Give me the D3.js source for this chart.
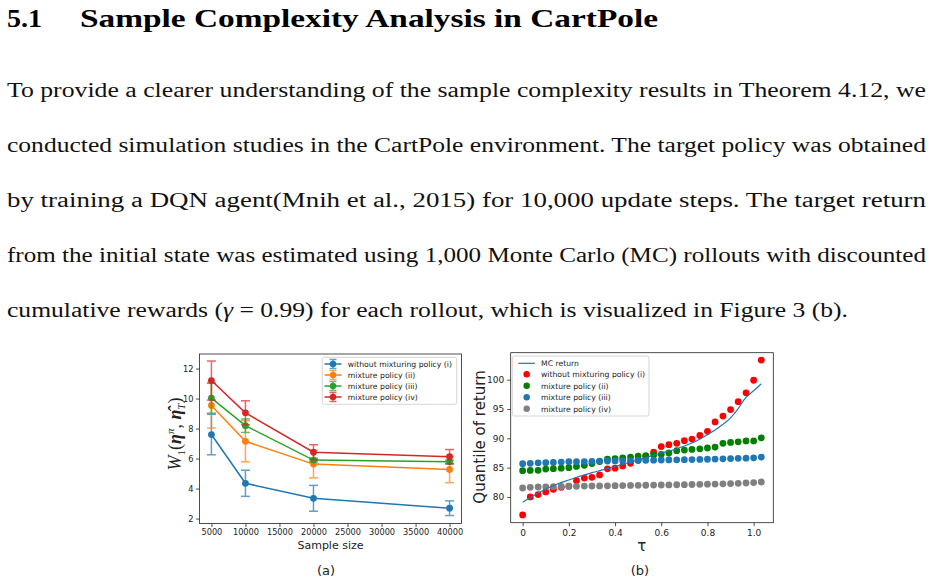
<!DOCTYPE html>
<html>
<head>
<meta charset="utf-8">
<script src="https://cdn.jsdelivr.net/npm/d3@7"></script>
<style>
  body { margin: 0; background: #fff; }
  svg { display: block; }
</style>
</head>
<body>
<svg width="932" height="584"></svg>
<script>
(function (d3) {

  // ---- page text ----
  const headingNum = '5.1';
  const headingText = 'Sample Complexity Analysis in CartPole';
  const paragraphLines = [
    [{t: 'To provide a clearer understanding of the sample complexity results in Theorem 4.12, we'}],
    [{t: 'conducted simulation studies in the CartPole environment. The target policy was obtained'}],
    [{t: 'by training a DQN agent(Mnih et al., 2015) for 10,000 update steps. The target return'}],
    [{t: 'from the initial state was estimated using 1,000 Monte Carlo (MC) rollouts with discounted'}],
    [{t: 'cumulative rewards ('}, {t: 'γ', it: true}, {t: ' = 0.99) for each rollout, which is visualized in Figure 3 (b).'}]
  ];

  // ---- figure (a): W1 distance vs sample size ----
  const sampleSizes = [5000, 10000, 20000, 40000];
  const w1Without = [7.6, 4.35, 3.35, 2.69];
  const errWithout = [1.35, 0.87, 0.86, 0.49];
  const w1MixII = [9.54, 7.15, 5.63, 5.27];
  const errMixII = [1.5, 1.37, 0.92, 0.88];
  const w1MixIII = [10.03, 8.19, 5.9, 5.78];
  const errMixIII = [1.0, 0.45, 0.12, 0.12];
  const w1MixIV = [11.2, 9.05, 6.42, 6.12];
  const errMixIV = [1.3, 0.8, 0.5, 0.48];
  const xTicksA = [5000, 10000, 15000, 20000, 25000, 30000, 35000, 40000];
  const yTicksA = [2, 4, 6, 8, 10, 12];

  // ---- figure (b): quantiles of return ----
  const taus = [0, 0.033, 0.067, 0.1, 0.133, 0.167, 0.2, 0.233, 0.267, 0.3, 0.333,
    0.367, 0.4, 0.433, 0.467, 0.5, 0.533, 0.567, 0.6, 0.633, 0.667, 0.7, 0.733,
    0.767, 0.8, 0.833, 0.867, 0.9, 0.933, 0.967, 1.0, 1.033];
  const qWithout = [76.93, 80.0, 80.4, 80.85, 81.3, 81.65, 81.85, 82.78, 83.22, 83.35, 83.75,
    84.8, 84.9, 85.3, 85.75, 86.3, 86.9, 87.62, 88.6, 88.92, 89.15, 89.6, 89.87,
    90.48, 91.2, 92.8, 93.8, 94.9, 96.25, 97.75, 99.9, 103.35];
  const qMixII = [84.49, 84.52, 84.55, 84.75, 84.82, 84.9, 85.0, 85.2, 85.4, 85.7, 86.05,
    86.45, 86.55, 86.65, 86.8, 86.98, 87.05, 87.15, 87.27, 87.5, 87.9, 88.0, 88.1,
    88.2, 88.35, 88.5, 89.15, 89.3, 89.4, 89.55, 89.55, 90.08];
  const qMixIII = [85.68, 85.74, 85.82, 85.85, 85.88, 85.95, 86.0, 86.02, 86.04, 86.06, 86.1,
    86.13, 86.15, 86.17, 86.2, 86.22, 86.25, 86.27, 86.3, 86.32, 86.34, 86.36, 86.38,
    86.4, 86.43, 86.46, 86.5, 86.54, 86.58, 86.62, 86.68, 86.8];
  const qMixIV = [81.53, 81.65, 81.7, 81.72, 81.75, 81.78, 81.8, 81.83, 81.85, 81.87, 81.88,
    81.9, 81.92, 81.94, 81.96, 81.98, 82.0, 82.02, 82.04, 82.06, 82.08, 82.1, 82.12,
    82.15, 82.18, 82.2, 82.24, 82.28, 82.32, 82.38, 82.45, 82.55];
  const mcTaus = [0, 0.05, 0.1, 0.15, 0.2, 0.25, 0.3, 0.35, 0.4, 0.45, 0.5, 0.55, 0.6,
    0.65, 0.7, 0.75, 0.8, 0.85, 0.9, 0.93, 0.965, 1.0, 1.033];
  const mcReturn = [79.1, 80.3, 81.3, 82.2, 82.9, 83.55, 84.15, 84.65, 85.2, 85.75, 86.3,
    86.9, 87.5, 88.0, 88.7, 89.5, 90.6, 91.9, 93.5, 94.9, 96.9, 98.1, 99.3];
  const xTicksB = [0, 0.2, 0.4, 0.6, 0.8, 1.0];
  const yTicksB = [80, 85, 90, 95, 100];

  const svg = d3.select('svg');
  const serif = "'Liberation Serif', 'DejaVu Serif', serif";
  const sans = "'DejaVu Sans', sans-serif";

  // heading
  svg.append('text')
    .attr('x', 7).attr('y', 27)
    .style('font', `bold 25px ${serif}`)
    .attr('textLength', 35).attr('lengthAdjust', 'spacingAndGlyphs')
    .text(headingNum);
  svg.append('text')
    .attr('x', 80).attr('y', 27)
    .style('font', `bold 25px ${serif}`)
    .attr('textLength', 578).attr('lengthAdjust', 'spacingAndGlyphs')
    .text(headingText);

  // paragraph
  const baselines = [97, 152, 207, 262, 317];
  const lineWidths = [919, 919, 919, 919, 841];
  paragraphLines.forEach((segs, i) => {
    const t = svg.append('text')
      .attr('x', 7).attr('y', baselines[i])
      .style('font', `20px ${serif}`)
      .attr('fill', '#111')
      .attr('textLength', lineWidths[i]).attr('lengthAdjust', 'spacingAndGlyphs');
    segs.forEach(s => {
      t.append('tspan').attr('font-style', s.it ? 'italic' : null).text(s.t);
    });
  });

  const styleAxis = (g, size) => {
    g.select('.domain').remove();
    g.selectAll('.tick line').attr('stroke', '#222').attr('stroke-width', 0.8);
    g.selectAll('.tick text').attr('fill', '#222').style('font', `${size}px ${sans}`);
  };

  // ================= chart (a) =================
  const boxA = {left: 199.5, right: 461.5, top: 354, bottom: 523.5};
  const xA = d3.scaleLinear().domain([3250, 41750]).range([boxA.left, boxA.right]);
  const yA = d3.scaleLinear().domain([1.67, 12.97]).range([boxA.bottom, boxA.top]);

  const gA = svg.append('g');
  gA.append('g')
    .attr('transform', `translate(0,${boxA.bottom})`)
    .call(d3.axisBottom(xA).tickValues(xTicksA).tickFormat(d3.format('d')).tickSize(3.5).tickPadding(2.5))
    .call(g => styleAxis(g, 8.2));
  gA.append('g')
    .attr('transform', `translate(${boxA.left},0)`)
    .call(d3.axisLeft(yA).tickValues(yTicksA).tickSize(3.5).tickPadding(2.5))
    .call(g => styleAxis(g, 8.2));

  const seriesA = [
    {name: 'without mixturing policy (i)', color: '#1f77b4', vals: w1Without, errs: errWithout},
    {name: 'mixture policy (ii)', color: '#ff7f0e', vals: w1MixII, errs: errMixII},
    {name: 'mixture policy (iii)', color: '#2ca02c', vals: w1MixIII, errs: errMixIII},
    {name: 'mixture policy (iv)', color: '#d62728', vals: w1MixIV, errs: errMixIV}
  ];

  const lineA = d3.line().x(d => xA(d.x)).y(d => yA(d.y));
  seriesA.forEach(s => {
    const pts = sampleSizes.map((x, i) => ({x, y: s.vals[i], e: s.errs[i]}));
    const g = gA.append('g');
    g.append('path').datum(pts)
      .attr('d', lineA).attr('fill', 'none')
      .attr('stroke', s.color).attr('stroke-width', 1.5);
    const eb = g.selectAll('.eb').data(pts).enter().append('g')
      .attr('opacity', 0.7).attr('stroke', s.color).attr('stroke-width', 1.5);
    eb.append('line')
      .attr('x1', d => xA(d.x)).attr('x2', d => xA(d.x))
      .attr('y1', d => yA(d.y - d.e)).attr('y2', d => yA(d.y + d.e));
    eb.append('line')
      .attr('x1', d => xA(d.x) - 4.5).attr('x2', d => xA(d.x) + 4.5)
      .attr('y1', d => yA(d.y + d.e)).attr('y2', d => yA(d.y + d.e));
    eb.append('line')
      .attr('x1', d => xA(d.x) - 4.5).attr('x2', d => xA(d.x) + 4.5)
      .attr('y1', d => yA(d.y - d.e)).attr('y2', d => yA(d.y - d.e));
    g.selectAll('circle').data(pts).enter().append('circle')
      .attr('cx', d => xA(d.x)).attr('cy', d => yA(d.y))
      .attr('r', 3.4).attr('fill', s.color);
  });

  gA.append('rect')
    .attr('x', boxA.left).attr('y', boxA.top)
    .attr('width', boxA.right - boxA.left).attr('height', boxA.bottom - boxA.top)
    .attr('fill', 'none').attr('stroke', '#222').attr('stroke-width', 0.8);

  // legend (a)
  const legA = gA.append('g');
  legA.append('rect')
    .attr('x', 322.3).attr('y', 357.3).attr('width', 134.4).attr('height', 47)
    .attr('rx', 2).attr('fill', '#fff').attr('fill-opacity', 0.8)
    .attr('stroke', '#ccc').attr('stroke-width', 0.8);
  seriesA.forEach((s, i) => {
    const y = 364 + i * 11;
    const g = legA.append('g');
    g.append('line').attr('x1', 324.5).attr('x2', 341.5).attr('y1', y).attr('y2', y)
      .attr('stroke', s.color).attr('stroke-width', 1.5);
    const eb = g.append('g').attr('stroke', s.color).attr('stroke-width', 1.5).attr('opacity', 0.7);
    eb.append('line').attr('x1', 333).attr('x2', 333).attr('y1', y - 4.5).attr('y2', y + 4.5);
    eb.append('line').attr('x1', 329.5).attr('x2', 336.5).attr('y1', y - 4.5).attr('y2', y - 4.5);
    eb.append('line').attr('x1', 329.5).attr('x2', 336.5).attr('y1', y + 4.5).attr('y2', y + 4.5);
    g.append('circle').attr('cx', 333).attr('cy', y).attr('r', 3.2).attr('fill', s.color);
    g.append('text').attr('x', 347.8).attr('y', y + 2.8)
      .style('font', `7.7px ${sans}`).attr('fill', '#222').text(s.name);
  });

  // axis labels (a)
  gA.append('text')
    .attr('x', (boxA.left + boxA.right) / 2).attr('y', 548.5)
    .attr('text-anchor', 'middle')
    .style('font', `11px ${sans}`).attr('fill', '#222')
    .text('Sample size');

  const yLab = gA.append('text')
    .attr('transform', 'translate(181,434) rotate(-90)')
    .attr('text-anchor', 'middle')
    .style('font', `18px ${serif}`).attr('fill', '#222');
  yLab.append('tspan').attr('font-style', 'italic').text('W');
  yLab.append('tspan').attr('font-size', '11px').attr('dy', 4).text('1');
  yLab.append('tspan').attr('dy', -4).text('(');
  yLab.append('tspan').attr('font-style', 'italic').attr('font-weight', 'bold').text('η');
  yLab.append('tspan').attr('font-size', '11px').attr('font-style', 'italic').attr('dy', -7).text('π');
  yLab.append('tspan').attr('dy', 7).text(', ');
  yLab.append('tspan').attr('font-style', 'italic').attr('font-weight', 'bold').text('η\u0302');
  yLab.append('tspan').attr('font-size', '11px').attr('font-style', 'italic').attr('dy', 4).text('T');
  yLab.append('tspan').attr('dy', -4).text(')');

  gA.append('text')
    .attr('x', 326).attr('y', 575)
    .attr('text-anchor', 'middle')
    .style('font', `13px ${sans}`).attr('fill', '#222')
    .text('(a)');

  // ================= chart (b) =================
  const boxB = {left: 510.7, right: 773.3, top: 352.7, bottom: 522.7};
  const xB = d3.scaleLinear().domain([-0.0517, 1.085]).range([boxB.left, boxB.right]);
  const yB = d3.scaleLinear().domain([75.61, 104.6]).range([boxB.bottom, boxB.top]);

  const gB = svg.append('g');
  gB.append('g')
    .attr('transform', `translate(0,${boxB.bottom})`)
    .call(d3.axisBottom(xB).tickValues(xTicksB).tickFormat(d => d === 0 ? '0' : d3.format('.1f')(d)).tickSize(3.5).tickPadding(3))
    .call(g => styleAxis(g, 9));
  gB.append('g')
    .attr('transform', `translate(${boxB.left},0)`)
    .call(d3.axisLeft(yB).tickValues(yTicksB).tickSize(3.5).tickPadding(3))
    .call(g => styleAxis(g, 9));

  const seriesB = [
    {name: 'without mixturing policy (i)', color: '#ff0000', vals: qWithout},
    {name: 'mixture policy (ii)', color: '#008000', vals: qMixII},
    {name: 'mixture policy (iii)', color: '#1f77b4', vals: qMixIII},
    {name: 'mixture policy (iv)', color: '#808080', vals: qMixIV}
  ];
  seriesB.forEach(s => {
    gB.append('g').selectAll('circle')
      .data(taus.map((t, i) => ({x: t, y: s.vals[i]})))
      .enter().append('circle')
      .attr('cx', d => xB(d.x)).attr('cy', d => yB(d.y))
      .attr('r', 3.4).attr('fill', s.color);
  });

  const mcPts = mcTaus.map((t, i) => ({x: t, y: mcReturn[i]}));
  gB.append('path').datum(mcPts)
    .attr('d', d3.line().x(d => xB(d.x)).y(d => yB(d.y)).curve(d3.curveMonotoneX))
    .attr('fill', 'none').attr('stroke', '#1f77b4').attr('stroke-width', 1.2);

  gB.append('rect')
    .attr('x', boxB.left).attr('y', boxB.top)
    .attr('width', boxB.right - boxB.left).attr('height', boxB.bottom - boxB.top)
    .attr('fill', 'none').attr('stroke', '#222').attr('stroke-width', 0.8);

  // legend (b)
  const legB = gB.append('g');
  legB.append('rect')
    .attr('x', 512.3).attr('y', 356).attr('width', 136.7).attr('height', 60)
    .attr('rx', 2).attr('fill', '#fff').attr('fill-opacity', 0.8)
    .attr('stroke', '#ccc').attr('stroke-width', 0.8);
  legB.append('line').attr('x1', 518.3).attr('x2', 535).attr('y1', 363.3).attr('y2', 363.3)
    .attr('stroke', '#1f77b4').attr('stroke-width', 1.2);
  legB.append('text').attr('x', 541).attr('y', 366.1)
    .style('font', `7.7px ${sans}`).attr('fill', '#222').text('MC return');
  seriesB.forEach((s, i) => {
    const y = 374.3 + i * 11.5;
    legB.append('circle').attr('cx', 526.7).attr('cy', y).attr('r', 3.2).attr('fill', s.color);
    legB.append('text').attr('x', 541).attr('y', y + 2.8)
      .style('font', `7.7px ${sans}`).attr('fill', '#222').text(s.name);
  });

  // axis labels (b)
  gB.append('text')
    .attr('x', 641.7).attr('y', 551)
    .attr('text-anchor', 'middle')
    .style('font', `15px ${sans}`).attr('fill', '#222')
    .text('τ');
  gB.append('text')
    .attr('transform', 'translate(485,437) rotate(-90)')
    .attr('text-anchor', 'middle')
    .style('font', `15px ${sans}`).attr('fill', '#222')
    .text('Quantile of return');

  gB.append('text')
    .attr('x', 640).attr('y', 575)
    .attr('text-anchor', 'middle')
    .style('font', `13px ${sans}`).attr('fill', '#222')
    .text('(b)');

}(d3));
</script>
</body>
</html>
